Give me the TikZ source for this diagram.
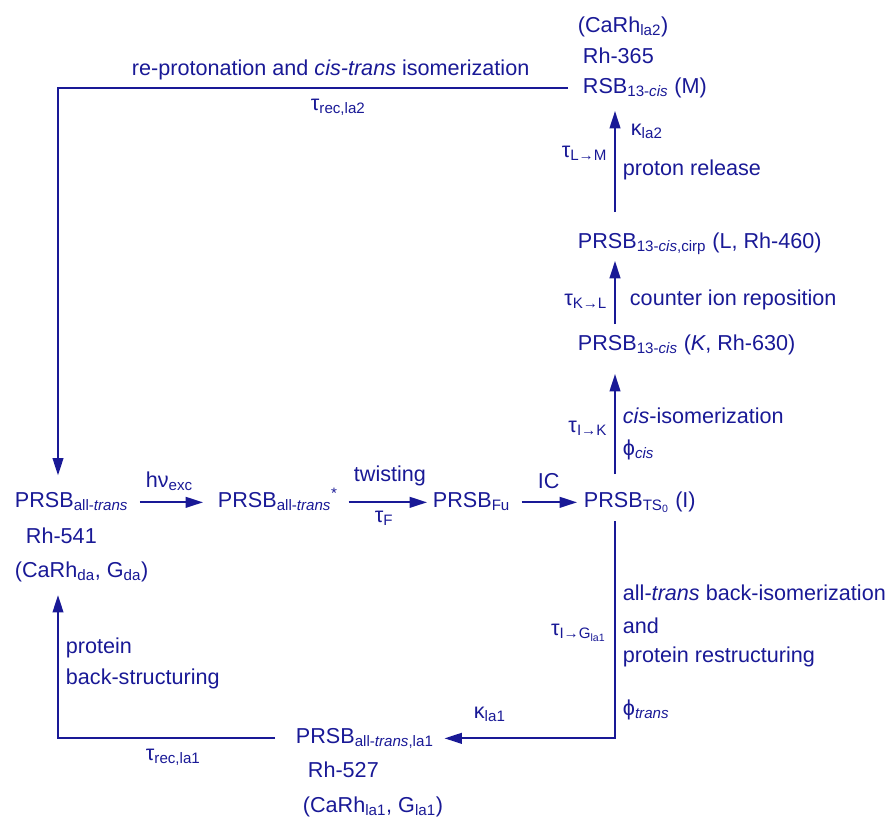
\documentclass[tikz,border=0pt]{standalone}
\usepackage{fontspec}
\setmainfont{Liberation Sans}
\usetikzlibrary{arrows.meta}
\definecolor{rhblue}{RGB}{25,25,150}
\tikzstyle{state} = [draw=none, inner sep=0pt, anchor=base west, text height=11pt, text depth=4pt]
\tikzstyle{lbl} = [draw=none, inner sep=0pt, anchor=base west]
\tikzstyle{lblr} = [draw=none, inner sep=0pt, anchor=base east]

\begin{document}
\begin{tikzpicture}[x=0.75pt,y=-0.75pt,->,>={Triangle[length=13pt,width=8pt]},line width=1.4pt,rhblue,font=\fontsize{16.2}{19}\selectfont]

    \useasboundingbox (0,0) rectangle (885,819);

    \coordinate (lcol) at (58,0);
    \coordinate (col) at (615,0);

    % dark adapted state
    \node[state] at (14,507) (a1) [] {PRSB\textsubscript{all-\textit{trans}}};
    \node[lbl] at (25,543) (a2) [] {Rh-541};
    \node[lbl] at (14,577) (a3) [] {(CaRh\textsubscript{da}, G\textsubscript{da})};

    \node[state] at (217,507) (b1) [] {PRSB\textsubscript{all-\textit{trans}}\textsuperscript{*}};
    \node[state] at (432,507) (c1) [] {PRSB\textsubscript{Fu}};
    \node[state] at (583,507) (d1) [] {PRSB\textsubscript{TS\textsubscript{0}} (I)};

    \node[state] at (577,350) (e1) [] {PRSB\textsubscript{13-\textit{cis}} (\textit{K}, Rh-630)};
    \node[state] at (577,248) (f1) [] {PRSB\textsubscript{13-\textit{cis},cirp} (L, Rh-460)};

    \node[lbl] at (577,32) (g1) [] {(CaRh\textsubscript{la2})};
    \node[lbl] at (582,63) (g2) [] {Rh-365};
    \node[state] at (582,93) (g3) [] {RSB\textsubscript{13-\textit{cis}} (M)};

    \node[state] at (295,743) (h1) [] {PRSB\textsubscript{all-\textit{trans},la1}};
    \node[lbl] at (307,777) (h2) [] {Rh-527};
    \node[lbl] at (302,812) (h3) [] {(CaRh\textsubscript{la1}, G\textsubscript{la1})};

    %=====================

    \path
    (a1) edge [shorten <=8pt, shorten >=10.5pt] node {} (b1)
    (b1) edge [shorten <=7.5pt, shorten >=3.75pt] node {} (c1)
    (c1) edge [shorten <=8pt, shorten >=4.5pt] node {} (d1)
    (d1.north -| col) edge [shorten <=13pt, shorten >=13.3pt] node {} (e1.south -| col)
    (e1.north -| col) edge [shorten <=7.7pt, shorten >=5pt] node {} (f1.south -| col)
    (f1.north -| col) edge [shorten <=15.2pt, shorten >=8.8pt] node {} (g3.south -| col);

    \draw[shorten <=10.5pt, shorten >=12pt] (g3.west) -- (g3.west -| lcol) -- (a1.north -| lcol);
    \draw[shorten <=15pt, shorten >=9.5pt] (h1.west) -- (h1.west -| lcol) -- (a3.south -| lcol);
    \draw[shorten <=5.8pt, shorten >=7.5pt] (d1.south -| col) -- (h1.east -| col) -- (h1.east);

    %=====================

    \node[lbl] at (145,487) (l1) [] {hν\textsubscript{exc}};
    \node[lbl] at (353,481) (l2) [] {twisting};
    \node[lbl] at (374,522) (l3) [] {τ\textsubscript{F}};
    \node[lbl] at (537,488) (l4) [] {IC};

    \node[lblr] at (608,432) (l5) [] {τ\textsubscript{I→K}};
    \node[lbl] at (622,423) (l6) [] {\textit{cis}-isomerization};
    \node[lbl] at (622,455) (l7) [] {ϕ\textsubscript{\textit{cis}}};

    \node[lblr] at (608,305) (l8) [] {τ\textsubscript{K→L}};
    \node[lbl] at (629,305) (l9) [] {counter ion reposition};

    \node[lbl] at (630,135) (l10) [] {κ\textsubscript{la2}};
    \node[lblr] at (608,157) (l11) [] {τ\textsubscript{L→M}};
    \node[lbl] at (622,175) (l12) [] {proton release};

    \node[lbl] at (131,75) (l13) [] {re-protonation and \textit{cis-trans} isomerization};
    \node[lbl] at (310,110) (l14) [] {τ\textsubscript{rec,la2}};

    \node[lbl] at (622,600) (l15) [] {all-\textit{trans} back-isomerization};
    \node[lbl] at (622,633) (l16) [] {and};
    \node[lbl] at (622,662) (l17) [] {protein restructuring};
    \node[lbl] at (622,715) (l18) [] {ϕ\textsubscript{\textit{trans}}};
    \node[lblr] at (607,635) (l19) [] {τ\textsubscript{I→G\textsubscript{la1}}};
    \node[lbl] at (473,718) (l20) [] {κ\textsubscript{la1}};

    \node[lbl] at (65,653) (l21) [] {protein};
    \node[lbl] at (65,684) (l22) [] {back-structuring};
    \node[lbl] at (145,760) (l23) [] {τ\textsubscript{rec,la1}};

\end{tikzpicture}
\end{document}
